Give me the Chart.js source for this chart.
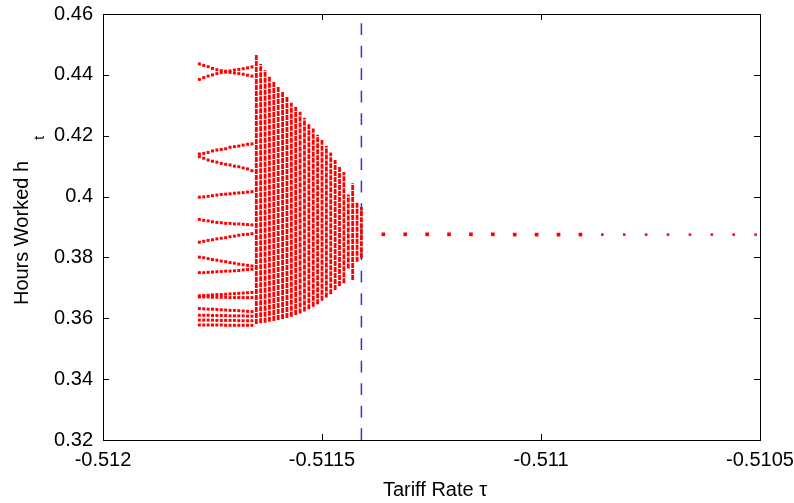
<!DOCTYPE html>
<html lang="en">
<head>
  <meta charset="UTF-8" />
  <title>Hours Worked vs Tariff Rate</title>
  <script src="https://cdn.jsdelivr.net/npm/chart.js"></script>
  <style>
    body {
      margin: 0;
      background: white;
    }
    #wrap {
      width: 794px;
      height: 503px;
    }
  </style>
</head>
<body>
  <div id="wrap"><canvas id="bifChart" width="794" height="503"></canvas></div>

  <script>
    // tick marks
    const xTicks = [-0.512, -0.5115, -0.511, -0.5105];
    const yTicks = [0.32, 0.34, 0.36, 0.38, 0.4, 0.42, 0.44, 0.46];

    // periodic region: one tau per column, one array per orbit branch
    const tauPeriodic = [-0.51178, -0.51177, -0.51176, -0.51175, -0.51174, -0.51173, -0.51172,
                         -0.51171, -0.5117, -0.51169, -0.51168, -0.51167, -0.51166];
    const hPeriodic = [
      [0.4436, 0.4431, 0.4427, 0.4421, 0.4417, 0.4414, 0.4412, 0.4413, 0.4416, 0.4418, 0.4420, 0.4423, 0.4426],
      [0.4385, 0.4391, 0.4396, 0.4400, 0.4404, 0.4407, 0.4409, 0.4408, 0.4406, 0.4404, 0.4402, 0.4399, 0.4396],
      [0.4140, 0.4142, 0.4145, 0.4150, 0.4153, 0.4155, 0.4157, 0.4162, 0.4164, 0.4166, 0.4169, 0.4172, 0.4173],
      [0.4131, 0.4126, 0.4120, 0.4116, 0.4113, 0.4109, 0.4106, 0.4104, 0.4100, 0.4098, 0.4094, 0.4091, 0.4085],
      [0.3998, 0.3999, 0.4001, 0.4003, 0.4005, 0.4007, 0.4008, 0.4009, 0.4011, 0.4012, 0.4013, 0.4015, 0.4016],
      [0.3925, 0.3922, 0.3920, 0.3917, 0.3915, 0.3914, 0.3912, 0.3912, 0.3910, 0.3910, 0.3909, 0.3908, 0.3907],
      [0.3850, 0.3853, 0.3856, 0.3858, 0.3861, 0.3863, 0.3865, 0.3868, 0.3870, 0.3873, 0.3875, 0.3876, 0.3878],
      [0.3801, 0.3799, 0.3796, 0.3793, 0.3791, 0.3788, 0.3786, 0.3783, 0.3781, 0.3778, 0.3776, 0.3774, 0.3772],
      [0.3750, 0.3750, 0.3751, 0.3752, 0.3753, 0.3754, 0.3755, 0.3755, 0.3756, 0.3757, 0.3759, 0.3760, 0.3761],
      [0.3674, 0.3675, 0.3676, 0.3677, 0.3678, 0.3678, 0.3679, 0.3680, 0.3681, 0.3682, 0.3683, 0.3684, 0.3685],
      [0.3670, 0.3670, 0.3670, 0.3669, 0.3669, 0.3669, 0.3669, 0.3668, 0.3668, 0.3668, 0.3668, 0.3668, 0.3668],
      [0.3632, 0.3631, 0.3630, 0.3630, 0.3629, 0.3628, 0.3627, 0.3626, 0.3626, 0.3625, 0.3624, 0.3623, 0.3622],
      [0.3610, 0.3610, 0.3610, 0.3609, 0.3609, 0.3609, 0.3609, 0.3608, 0.3608, 0.3608, 0.3608, 0.3607, 0.3607],
      [0.3594, 0.3594, 0.3594, 0.3594, 0.3593, 0.3593, 0.3593, 0.3593, 0.3593, 0.3592, 0.3592, 0.3592, 0.3592],
      [0.3578, 0.3578, 0.3578, 0.3578, 0.3578, 0.3578, 0.3577, 0.3577, 0.3577, 0.3577, 0.3577, 0.3577, 0.3577],
    ];

    // chaotic region: each column spans from low to high
    const tauChaos = [-0.51165, -0.51164, -0.51163, -0.51162, -0.51161, -0.5116, -0.51159, -0.51158,
                      -0.51157, -0.51156, -0.51155, -0.51154, -0.51153, -0.51152, -0.51151, -0.5115,
                      -0.51149, -0.51148, -0.51147, -0.51146, -0.51145, -0.51144, -0.51143, -0.51142, -0.51141];
    const hChaosHigh = [0.4465, 0.4436, 0.4416, 0.4396, 0.4378, 0.4361, 0.4345, 0.4328, 0.4308, 0.4294,
                        0.4279, 0.4259, 0.4241, 0.4224, 0.4203, 0.4186, 0.4166, 0.4145, 0.4120, 0.4097,
                        0.4081, 0.4007, 0.4044, 0.3980, 0.3966];
    const hChaosLow = [0.3581, 0.3584, 0.3585, 0.3589, 0.3591, 0.3594, 0.3598, 0.3601, 0.3605, 0.3611,
                       0.3616, 0.3622, 0.3630, 0.3638, 0.3646, 0.3658, 0.3668, 0.3679, 0.3693, 0.3706,
                       0.3715, 0.3764, 0.3726, 0.3786, 0.3797];

    // steady state after the bifurcation
    const tauSteady = [-0.51136, -0.51131, -0.51126, -0.51121, -0.51116, -0.51111, -0.51106, -0.51101, -0.51096,
                       -0.51091, -0.51086, -0.51081, -0.51076, -0.51071, -0.51066, -0.51061, -0.51056, -0.51051];
    const hSteady = [0.3876, 0.3876, 0.3876, 0.3876, 0.3876, 0.3876, 0.3875, 0.3875, 0.3875,
                     0.3875, 0.3875, 0.3875, 0.3875, 0.3875, 0.3875, 0.3875, 0.3875, 0.3875];

    const tauBifurcation = -0.51141;

    const periodicPoints = [];
    hPeriodic.forEach(branch => {
      branch.forEach((h, i) => periodicPoints.push({ x: tauPeriodic[i], y: h }));
    });

    const chaosSegments = [];
    tauChaos.forEach((t, i) => {
      chaosSegments.push({ x: t, y: hChaosLow[i] });
      chaosSegments.push({ x: t, y: hChaosHigh[i] });
      chaosSegments.push({ x: t, y: null });
    });

    const steadyPoints = tauSteady.map((t, i) => ({ x: t, y: hSteady[i] }));

    const FONT = "'Liberation Sans', Arial, sans-serif";

    // MATLAB-like box with inward ticks, plus axis titles
    const framePlugin = {
      id: "frame",
      afterDraw(chart) {
        const ctx = chart.ctx;
        const a = chart.chartArea;
        const xs = chart.scales.x;
        const ys = chart.scales.y;
        ctx.save();
        ctx.strokeStyle = "black";
        ctx.lineWidth = 1;
        ctx.strokeRect(Math.round(a.left) + 0.5, Math.round(a.top) + 0.5,
                       Math.round(a.right - a.left), Math.round(a.bottom - a.top));
        ctx.beginPath();
        xTicks.forEach(v => {
          const px = Math.round(xs.getPixelForValue(v)) + 0.5;
          ctx.moveTo(px, a.bottom); ctx.lineTo(px, a.bottom - 6);
          ctx.moveTo(px, a.top); ctx.lineTo(px, a.top + 6);
        });
        yTicks.forEach(v => {
          const py = Math.round(ys.getPixelForValue(v)) + 0.5;
          ctx.moveTo(a.left, py); ctx.lineTo(a.left + 6, py);
          ctx.moveTo(a.right, py); ctx.lineTo(a.right - 6, py);
        });
        ctx.stroke();

        ctx.fillStyle = "black";
        ctx.font = "20px " + FONT;
        ctx.textAlign = "center";
        ctx.textBaseline = "middle";
        ctx.fillText("Tariff Rate \u03c4", 435, 490);

        ctx.translate(22, 233);
        ctx.rotate(-Math.PI / 2);
        const label = "Hours Worked h";
        const w = ctx.measureText(label).width;
        ctx.fillText(label, 0, 0);
        ctx.font = "15px " + FONT;
        ctx.fillText("t", w / 2 + 23, 18);
        ctx.restore();
      }
    };

    const bifChart = new Chart(document.getElementById("bifChart"), {
      type: "scatter",
      data: {
        datasets: [
          {
            data: periodicPoints,
            pointStyle: "rect",
            pointRadius: 2.1,
            backgroundColor: "#ff0000",
            borderWidth: 0,
            order: 1,
          },
          {
            data: chaosSegments,
            showLine: true,
            spanGaps: false,
            borderColor: "#ff0000",
            borderWidth: 2.8,
            borderDash: [5, 1],
            pointRadius: 0,
            order: 1,
          },
          {
            data: steadyPoints,
            pointStyle: "rect",
            pointRadius: ctx => (ctx.dataIndex < 10 ? 2.6 : 1.8),
            backgroundColor: "#ff0000",
            borderWidth: 0,
            order: 1,
          },
          {
            data: [{ x: tauBifurcation, y: 0.32 }, { x: tauBifurcation, y: 0.46 }],
            showLine: true,
            borderColor: "rgb(50,50,215)",
            borderWidth: 1.5,
            borderDash: [11.7, 10.8],
            pointRadius: 0,
            order: 2,
          },
        ],
      },
      options: {
        responsive: false,
        animation: false,
        devicePixelRatio: 1,
        layout: { padding: { top: 14, right: 34, left: 0, bottom: 0 } },
        plugins: {
          legend: { display: false },
          tooltip: { enabled: false },
        },
        scales: {
          x: {
            type: "linear",
            min: -0.512,
            max: -0.5105,
            afterBuildTicks: s => { s.ticks = xTicks.map(v => ({ value: v })); },
            afterFit: s => { s.height = 63; s.paddingLeft = 0; s.paddingRight = 0; },
            ticks: {
              callback: v => String(v),
              color: "black",
              font: { family: FONT, size: 20 },
              padding: 8,
              maxRotation: 0,
            },
            grid: { display: false, drawTicks: false },
            border: { display: false },
          },
          y: {
            min: 0.32,
            max: 0.46,
            afterBuildTicks: s => { s.ticks = yTicks.map(v => ({ value: v })); },
            afterFit: s => { s.width = 103; s.paddingTop = 0; s.paddingBottom = 0; },
            ticks: {
              callback: v => String(v),
              color: "black",
              font: { family: FONT, size: 20 },
              padding: 10,
            },
            grid: { display: false, drawTicks: false },
            border: { display: false },
          },
        },
      },
      plugins: [framePlugin],
    });
  </script>
</body>
</html>
